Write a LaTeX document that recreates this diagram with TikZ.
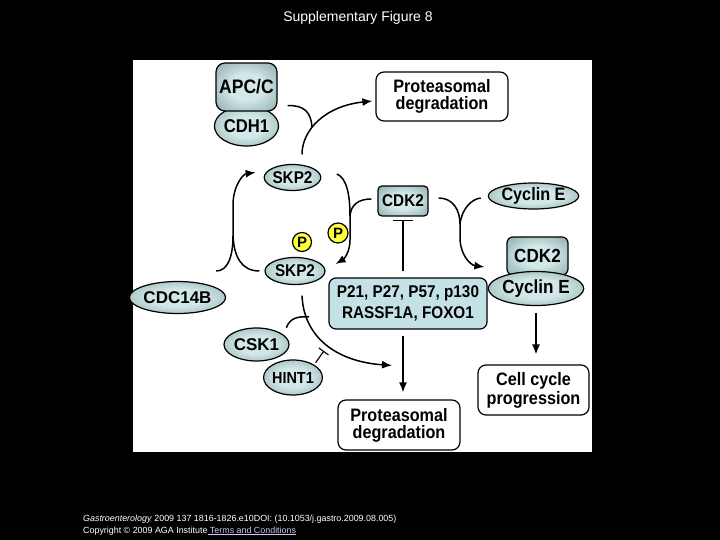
\documentclass[tikz,border=0pt]{standalone}
\usepackage{fontspec}
\setmainfont{Liberation Sans}
\newfontfamily\cond{Liberation Sans}[FakeStretch=0.9]
\usetikzlibrary{arrows.meta,shapes.geometric}
\definecolor{tlight}{RGB}{210,231,231}
\definecolor{tdark}{RGB}{96,132,134}
\definecolor{pboxfill}{RGB}{196,226,230}
\definecolor{pyellow}{RGB}{255,255,60}
\definecolor{linkcol}{RGB}{200,200,245}
\pgfdeclareradialshading{tealshade}{\pgfpointorigin}{color(0bp)=(tlight); color(14bp)=(tlight); color(50bp)=(tdark); color(75bp)=(tdark)}
\tikzset{
  prot/.style={shape=ellipse, draw=black, line width=1.2pt, shading=tealshade, inner sep=0pt,
    font=\cond\bfseries\fontsize{17}{17}\selectfont},
  pbox/.style={shape=rectangle, draw=black, line width=1.2pt, shading=tealshade, inner sep=0pt,
    font=\cond\bfseries\fontsize{17}{17}\selectfont},
  wbox/.style={shape=rectangle, rounded corners=8pt, draw=black, line width=1.2pt, fill=white,
    inner sep=0pt, align=center},
  pcirc/.style={shape=circle, draw=black, line width=1.2pt, fill=pyellow, inner sep=0pt,
    font=\bfseries\fontsize{15}{15}\selectfont},
  conn/.style={line width=1.5pt, -{Latex[length=10pt,width=8pt]}},
  link/.style={line width=1.5pt},
  inhib/.style={line width=1.1pt, -{Bar[width=20pt,line width=1.1pt]}},
}
\begin{document}
\begin{tikzpicture}[x=1pt,y=-1pt]
\fill[black] (0,0) rectangle (720,540);
\useasboundingbox (0,0) rectangle (720,540);
\fill[white] (133,60) rectangle (592,452);

% title and footer
\node[text=white, font=\fontsize{14}{14}\selectfont] (title) at (358,18) {Supplementary Figure 8};
\node[text=white, anchor=base west, inner sep=0pt, font=\fontsize{8.9}{8.9}\selectfont] (foot1) at (83,521)
  {\textit{Gastroenterology} 2009 137 1816-1826.e10DOI: (10.1053/j.gastro.2009.08.005)};
\node[text=white, anchor=base west, inner sep=0pt, font=\fontsize{8.9}{8.9}\selectfont] (foot2) at (83,533)
  {Copyright \textcopyright{} 2009 AGA Institute\textcolor{linkcol}{\underline{ Terms and Conditions}}};

% nodes
\node[prot, minimum width=61pt, minimum height=40pt, font=\cond\bfseries\fontsize{18.5}{18.5}\selectfont] (cdh1) at (246.5,126) {\raisebox{-1pt}{CDH1}};
\node[pbox, rounded corners=9pt, minimum width=61pt, minimum height=48pt, font=\cond\bfseries\fontsize{19.5}{19.5}\selectfont] (apcc) at (246.5,87) {APC/C};
\node[wbox, minimum width=132pt, minimum height=49pt, font=\cond\bfseries\fontsize{18}{17}\selectfont] (protT) at (442,96.5) {Proteasomal\\degradation};
\node[prot, minimum width=52pt, minimum height=26pt] (skp2t) at (292.5,177.5) {SKP2};
\node[pbox, rounded corners=4pt, minimum width=50pt, minimum height=30pt] (cdk2t) at (403,201) {CDK2};
\node[prot, minimum width=77pt, minimum height=26pt, font=\cond\bfseries\fontsize{18}{18}\selectfont] (cyceT) at (533.5,196) {Cyclin E};
\node[pbox, rounded corners=6pt, minimum width=61pt, minimum height=38pt, font=\cond\bfseries\fontsize{19}{19}\selectfont] (cdk2r) at (537.5,256) {\raisebox{1pt}{CDK2}};
\node[prot, minimum width=84pt, minimum height=34pt, font=\cond\bfseries\fontsize{19}{19}\selectfont] (cycer) at (536,288.5) {Cyclin E};
\node[prot, minimum width=60pt, minimum height=27pt] (skp2b) at (295,271) {SKP2};
\node[pcirc, minimum size=19pt] (p1) at (302,242) {P};
\node[pcirc, minimum size=20pt] (p2) at (338,233) {P};
\node[prot, minimum width=89pt, minimum height=32pt, font=\bfseries\fontsize{17}{17}\selectfont] (cdc14b) at (177.5,297.5) {CDC14B};
\node[shape=rectangle, rounded corners=7pt, draw=black, line width=1.2pt, fill=pboxfill, inner sep=0pt,
  minimum width=158pt, minimum height=51pt, align=center,
  font=\cond\bfseries\fontsize{17}{21.5}\selectfont] (p21) at (408,303.5) {P21, P27, P57, p130\\RASSF1A, FOXO1};
\node[prot, minimum width=65pt, minimum height=33pt, font=\bfseries\fontsize{17}{17}\selectfont] (csk1) at (256.5,344.5) {CSK1};
\node[prot, minimum width=50pt, minimum height=35pt, font=\cond\bfseries\fontsize{16}{16}\selectfont] (hint1) at (293,377.5) {HINT1};
\node[wbox, minimum width=122pt, minimum height=50pt, font=\cond\bfseries\fontsize{18}{17}\selectfont] (protB) at (399,425) {Proteasomal\\degradation};
\node[wbox, minimum width=111pt, minimum height=50pt, font=\cond\bfseries\fontsize{18}{19}\selectfont] (cellcyc) at (533.5,390) {Cell cycle\\progression};

% helper coordinates (junctions)
\coordinate (mTop) at (312,127);
\coordinate (mLeft) at (233,236);
\coordinate (mMid) at (350,216);
\coordinate (mRight) at (460,224);
\coordinate (mBot) at (309,317);

% SKP2 -> proteasomal (top) with APC/C-CDH1 joining
\draw[conn] ([xshift=9.5pt,yshift=9.5pt]skp2t.north) .. controls (302,130) and (325,106) .. ([xshift=-3pt,yshift=-4.5pt]protT.west);
\draw[link] ([xshift=10pt,yshift=6pt]apcc.south east) .. controls (305,105) and (311,113) .. (mTop);

% left loop: CDC14B and P-SKP2 -> SKP2
\draw[conn] ([xshift=-10pt,yshift=26.5pt]cdc14b.east) .. controls (228,271) and (233,256) .. (mLeft) -- (233,205) .. controls (233,186) and (243,174) .. ([xshift=-8pt,yshift=5pt]skp2t.west);
\draw[link] ([xshift=-5pt]skp2b.west) .. controls (241,271) and (234,256) .. (mLeft);

% SKP2 -> P-SKP2 via CDK2
\draw[conn] ([xshift=15.5pt,yshift=3.5pt]skp2t.east) .. controls (347,178) and (350,196) .. (mMid) -- (350,240) .. controls (350,252) and (344,259) .. ([xshift=10pt,yshift=7pt]skp2b.east);
\draw[link] ([xshift=-6pt,yshift=2pt]cdk2t.west) .. controls (358,199) and (351,205) .. (mMid);

% CDK2 + Cyclin E -> complex
\draw[conn] ([xshift=10pt,yshift=3pt]cdk2t.east) .. controls (453,198) and (460,210) .. (mRight) -- (460,240) .. controls (461,255) and (470,265) .. ([xshift=-22pt,yshift=-11pt]cdk2r.west);
\draw[link] ([xshift=-7pt,yshift=-2pt]cyceT.west) .. controls (472,199) and (462,208) .. (mRight);

% P21 family inhibits CDK2
\draw[inhib] ([xshift=-5pt,yshift=6pt]p21.north) -- ([yshift=-3pt]cdk2t.south);

% SKP2 (P) -> proteasomal bottom, with CSK1 and HINT1
\draw[conn] ([xshift=7pt,yshift=-10.5pt]skp2b.south) .. controls (304,340) and (340,362) .. ([xshift=-7pt,yshift=34pt]protB.north);
\draw[link] ([xshift=6.5pt,yshift=4.8pt]csk1.north east) .. controls (290,318) and (298,316) .. (mBot);
\draw[line width=1.1pt, -{Bar[width=12pt,line width=1.1pt]}] ([xshift=1.3pt,yshift=2pt]hint1.north east) -- (324,351);

% P21 -> proteasomal bottom
\draw[conn] ([xshift=-5pt,yshift=-6pt]p21.south) -- ([xshift=4pt,yshift=7pt]protB.north);

% complex -> cell cycle
\draw[conn] ([yshift=-6.5pt]cycer.south) -- ([xshift=2.5pt,yshift=10pt]cellcyc.north);
\end{tikzpicture}
\end{document}
